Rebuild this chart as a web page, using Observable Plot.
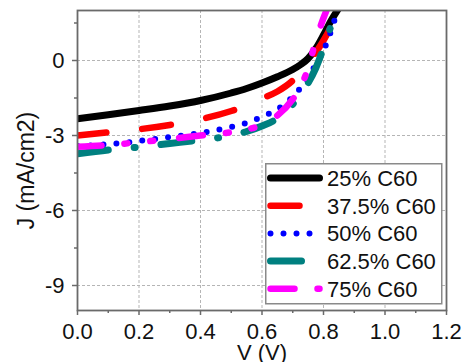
<!DOCTYPE html>
<html><head><meta charset="utf-8">
<script src="https://cdn.jsdelivr.net/npm/d3@7"></script>
<script src="https://cdn.jsdelivr.net/npm/@observablehq/plot@0.6"></script>
<style>
html,body{margin:0;padding:0;background:#fff;}
#chart{position:relative;width:462px;height:362px;overflow:hidden;font-family:"Liberation Sans",Arial,sans-serif;}
#legend{position:absolute;left:265px;top:163px;}
</style></head><body><div id="chart"></div>
<script>
// ---- data ----
const voltages = [0, 0.1, 0.2, 0.3, 0.4, 0.5, 0.55, 0.6, 0.65, 0.7, 0.725, 0.75, 0.775, 0.8, 0.825, 0.85];
const voltagesMagenta = [0, 0.1, 0.2, 0.3, 0.4, 0.5, 0.55, 0.6, 0.65, 0.7, 0.725, 0.75, 0.775, 0.8, 0.82];
const seriesNames = ["25% C60", "37.5% C60", "50% C60", "62.5% C60", "75% C60"];
const j25  = [-2.33, -2.17, -2.0, -1.82, -1.6, -1.3, -1.12, -0.9, -0.65, -0.36, -0.17, 0.08, 0.48, 1.02, 1.6, 2.1];
const j375 = [-3.0, -2.87, -2.75, -2.58, -2.35, -2.02, -1.8, -1.52, -1.24, -0.8, -0.47, -0.12, 0.32, 0.8, 1.38, 2.1];
const j50  = [-3.42, -3.35, -3.22, -3.06, -2.9, -2.66, -2.5, -2.25, -1.95, -1.45, -1.1, -0.68, -0.15, 0.4, 1.2, 2.2];
const j625 = [-3.73, -3.58, -3.46, -3.32, -3.18, -3.0, -2.84, -2.62, -2.32, -1.75, -1.35, -0.9, -0.3, 0.5, 1.4, 2.1];
const j75  = [-3.45, -3.38, -3.27, -3.14, -3.0, -2.87, -2.77, -2.56, -2.2, -1.55, -1.07, -0.3, 0.8, 1.7, 2.3];
const xTicks = [0, 0.2, 0.4, 0.6, 0.8, 1.0, 1.2];
const xMinorTicks = [0.1, 0.3, 0.5, 0.7, 0.9, 1.1];
const yTicks = [-9, -6, -3, 0];
const yMinorTicks = [-7.5, -4.5, -1.5, 1.5];

// ---- styles ----
const colors = ["#000000", "#ff0000", "#0000ff", "#008080", "#ff00ff"];
const dashes = [null, "29 36", "0 13", "31 26 1 26", "24 23 3 23 3 26"];
const widths = [7, 6.5, 6, 7, 6.5];

const seriesJ = [j25, j375, j50, j625, j75];
const seriesV = [voltages, voltages, voltages, voltages, voltagesMagenta];
const rows = seriesNames.map((name, i) => seriesV[i].map((v, k) => ({series: name, V: v, J: seriesJ[i][k]})));

const axisColor = "#6a6a6a";
const font = "'Liberation Sans', Arial, sans-serif";

const lineMarks = rows.map((data, i) => Plot.line(data, {
  x: "V", y: "J", stroke: colors[i], strokeWidth: widths[i],
  strokeDasharray: dashes[i] || undefined, strokeLinecap: "round", strokeLinejoin: "round",
  curve: "monotone-x", clip: true
}));

const plot = Plot.plot({
  width: 462, height: 362,
  marginLeft: 77, marginRight: 16, marginTop: 10, marginBottom: 52,
  style: {fontFamily: font, fontSize: "22px", background: "white", color: "#111"},
  x: {domain: [0, 1.2]},
  y: {domain: [-10, 2]},
  marks: [
    Plot.gridX(xTicks, {stroke: "#b5b5b5", strokeOpacity: 1, strokeDasharray: "3 2", strokeWidth: 1}),
    Plot.gridY(yTicks, {stroke: "#b5b5b5", strokeOpacity: 1, strokeDasharray: "3 2", strokeWidth: 1}),
    ...lineMarks,
    Plot.frame({stroke: axisColor, strokeWidth: 1.8}),
    Plot.axisX(xTicks, {tickSize: 5, tickPadding: 8, fontSize: 22, tickFormat: d => d.toFixed(1), label: null, stroke: axisColor, strokeWidth: 1.5, fill: "#111"}),
    Plot.axisX(xMinorTicks, {tickSize: 3, text: null, label: null, stroke: axisColor, strokeWidth: 1.5}),
    Plot.axisY(yTicks, {tickSize: 5, tickPadding: 8, fontSize: 22, tickFormat: d => String(d), label: null, stroke: axisColor, strokeWidth: 1.5, fill: "#111"}),
    Plot.axisY(yMinorTicks, {tickSize: 3, text: null, label: null, stroke: axisColor, strokeWidth: 1.5}),
    Plot.text(["V (V)"], {text: d => d, frameAnchor: "bottom", textAnchor: "middle", lineAnchor: "top", dy: 34, fontSize: 22, fill: "#111"}),
    Plot.text(["J (mA/cm2)"], {text: d => d, frameAnchor: "left", textAnchor: "middle", rotate: -90, lineAnchor: "middle", dx: -51, dy: 10, fontSize: 23, fill: "#111"})
  ]
});
document.getElementById("chart").appendChild(plot);

// ---- legend (inside the plot area, as in the original) ----
const lg = d3.select("#chart").append("svg").attr("id", "legend")
  .attr("width", 178).attr("height", 142);
lg.append("rect").attr("x", 0.75).attr("y", 0.75).attr("width", 176).attr("height", 140)
  .attr("fill", "white").attr("stroke", "#8a8a8a").attr("stroke-width", 1.5);
seriesNames.forEach((name, i) => {
  const cy = 15 + i * 27.7;
  lg.append("line").attr("x1", 5.5).attr("x2", 54.5).attr("y1", cy).attr("y2", cy)
    .attr("stroke", colors[i]).attr("stroke-width", widths[i])
    .attr("stroke-linecap", "round")
    .attr("stroke-dasharray", dashes[i]);
  lg.append("text").attr("x", 62).attr("y", cy).attr("dy", "0.36em")
    .attr("font-family", font).attr("font-size", 22).attr("fill", "#111").text(name);
});
</script></body></html>
